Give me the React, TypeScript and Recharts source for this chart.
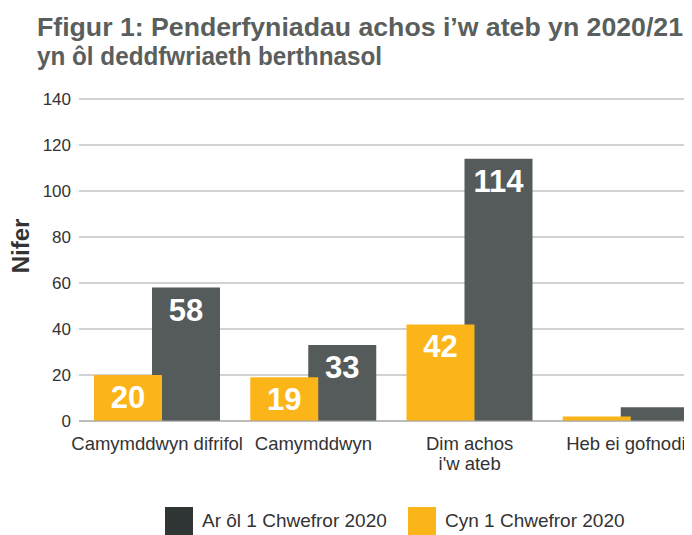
import React from 'react';
import { BarChart, Bar, XAxis, YAxis, CartesianGrid, LabelList } from 'recharts';

const categories = ['Camymddwyn difrifol', 'Camymddwyn', "Dim achos\ni'w ateb", 'Heb ei gofnodi'];
const cynValues = [20, 19, 42, 2];
const arOlValues = [58, 33, 114, 6];
const yTicks = [0, 20, 40, 60, 80, 100, 120, 140];
const seriesNames = ['Ar ôl 1 Chwefror 2020', 'Cyn 1 Chwefror 2020'];
const legendColors = ['#2f3535', '#fbb519'];
const titleLines = ["Ffigur 1: Penderfyniadau achos i’w ateb yn 2020/21", 'yn ôl deddfwriaeth berthnasol'];

const ORANGE = '#fbb519';
const DARK = '#555b5a';
const FONT = '"Liberation Sans", Arial, Helvetica, sans-serif';

const data = categories.map((name, i) => ({
  name,
  cyn: cynValues[i],
  arOl: arOlValues[i],
}));

// eslint-disable-next-line @typescript-eslint/no-explicit-any
const CategoryTick = ({ x, y, payload }: any) => {
  const lines = String(payload.value).split('\n');
  return (
    <text x={x} y={y} textAnchor="middle" fill="#333" fontSize={18.5} fontFamily={FONT}>
      {lines.map((l, i) => (
        <tspan key={i} x={x} dy={i === 0 ? 29 : 19.5}>
          {l}
        </tspan>
      ))}
    </text>
  );
};

// eslint-disable-next-line @typescript-eslint/no-explicit-any
const ValueLabel = ({ x, y, width, value }: any) => {
  if (value == null || Number(value) < 10) return null;
  return (
    <text
      x={Number(x) + Number(width) / 2}
      y={Number(y) + 33}
      textAnchor="middle"
      fill="#fff"
      fontSize={31}
      fontWeight="bold"
      fontFamily={FONT}
    >
      {value}
    </text>
  );
};

// eslint-disable-next-line @typescript-eslint/no-explicit-any
const AxisTitle = ({ viewBox }: any) => {
  const cy = viewBox.y + viewBox.height / 2 - 14;
  return (
    <text
      x={21}
      y={cy}
      transform={`rotate(-90, 21, ${cy})`}
      textAnchor="middle"
      fill="#333"
      fontSize={24}
      fontWeight="bold"
      fontFamily={FONT}
    >
      Nifer
    </text>
  );
};

const titleFont = '"Liberation Sans", Arial, sans-serif';
const SX = 0.82; // horizontal squeeze to imitate a condensed face

export default function App() {
  return (
    <div style={{ position: 'relative', width: 684, height: 527, overflow: 'hidden', background: '#fff' }}>
      <svg width={684} height={80} style={{ position: 'absolute', left: 0, top: 0 }}>
        <g transform={`scale(${SX}, 1)`}>
          <text
            x={29 / SX}
            y={28}
            textLength={646 / SX}
            lengthAdjust="spacingAndGlyphs"
            fill="#5a5f5e"
            fontSize={26.5}
            fontWeight="bold"
            fontFamily={titleFont}
          >
            {titleLines[0]}
          </text>
          <text
            x={29 / SX}
            y={57.5}
            textLength={345 / SX}
            lengthAdjust="spacingAndGlyphs"
            fill="#5a5f5e"
            fontSize={26.5}
            fontWeight="bold"
            fontFamily={titleFont}
          >
            {titleLines[1]}
          </text>
        </g>
      </svg>
      <BarChart
        width={700}
        height={527}
        data={data}
        margin={{ top: 91, right: 4, left: 0, bottom: 54 }}
        barSize={68}
        barGap={-10}
      >
        <CartesianGrid vertical={false} stroke="#a6a6a6" strokeWidth={1.2} />
        <XAxis
          dataKey="name"
          xAxisId="a"
          height={60}
          tickLine={false}
          tickSize={0}
          tickMargin={0}
          axisLine={{ stroke: '#a6a6a6', strokeWidth: 1.2 }}
          tick={<CategoryTick />}
          interval={0}
        />
        <XAxis dataKey="name" xAxisId="b" hide />
        <YAxis
          width={71}
          domain={[0, 140]}
          ticks={yTicks}
          tickLine={false}
          axisLine={false}
          tickSize={0}
          tickMargin={8}
          tick={{ fill: '#333', fontSize: 17, fontFamily: FONT }}
          label={<AxisTitle />}
        />
        {/* first axis: dark bars in their slot, orange placeholder */}
        <Bar xAxisId="a" dataKey="cyn" fill="none" legendType="none" isAnimationActive={false} />
        <Bar xAxisId="a" dataKey="arOl" name={seriesNames[0]} fill={DARK} isAnimationActive={false}>
          <LabelList dataKey="arOl" content={<ValueLabel />} />
        </Bar>
        {/* second axis: orange drawn on top of the overlap */}
        <Bar xAxisId="b" dataKey="cyn" name={seriesNames[1]} fill={ORANGE} isAnimationActive={false}>
          <LabelList dataKey="cyn" content={<ValueLabel />} />
        </Bar>
        <Bar xAxisId="b" dataKey="arOl" fill="none" legendType="none" isAnimationActive={false} />
      </BarChart>
      <div
        style={{
          position: 'absolute',
          left: 0,
          top: 499,
          width: 684,
          fontFamily: FONT,
          fontSize: 19,
          color: '#333',
        }}
      >
        {seriesNames.map((n, i) => (
          <div
            key={n}
            style={{ position: 'absolute', left: i === 0 ? 157 : 400, top: 0, display: 'flex', alignItems: 'center' }}
          >
            <div style={{ width: 28, height: 28, background: legendColors[i], marginRight: 9 }} />
            <span style={{ lineHeight: '28px', whiteSpace: 'nowrap' }}>{n}</span>
          </div>
        ))}
      </div>
    </div>
  );
}
